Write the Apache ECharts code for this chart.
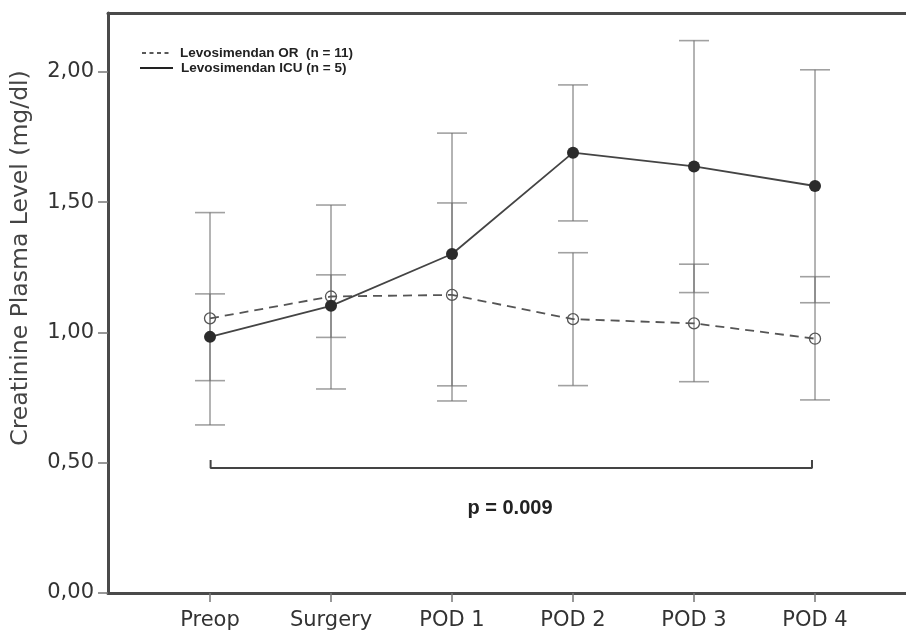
<!DOCTYPE html>
<html>
<head>
<meta charset="utf-8">
<script src="https://cdn.jsdelivr.net/npm/echarts@6/dist/echarts.min.js"></script>
<style>html,body{margin:0;padding:0;background:#fff;}#c{width:906px;height:632px;}</style>
</head>
<body>
<div id="c"></div>
<script>
const categories = ['Preop', 'Surgery', 'POD 1', 'POD 2', 'POD 3', 'POD 4'];
const yTicks = [0, 0.5, 1, 1.5, 2];
const orMean = [1.054, 1.138, 1.144, 1.051, 1.035, 0.976];
const orLow  = [0.645, 0.783, 0.795, 0.796, 0.811, 0.741];
const orHigh = [1.460, 1.489, 1.497, 1.306, 1.262, 1.214];
const icuMean = [0.983, 1.102, 1.301, 1.690, 1.637, 1.562];
const icuLow  = [0.815, 0.981, 0.737, 1.428, 1.153, 1.114];
const icuHigh = [1.148, 1.221, 1.765, 1.950, 2.120, 2.008];
const bracket = [[0.005, 0.51], [0.005, 0.48], [4.975, 0.48], [4.975, 0.51]];
const legendLabels = ['Levosimendan OR  (n = 11)', 'Levosimendan ICU (n = 5)'];
const pText = 'p = 0.009';
const yTitle = 'Creatinine Plasma Level (mg/dl)';

const chart = echarts.init(document.getElementById('c'), null, {renderer: 'canvas'});

function errData(low, high) {
  return categories.map((c, i) => [i, low[i], high[i]]);
}
function errRender(params, api) {
  const lo = api.coord([api.value(0), api.value(1)]);
  const hi = api.coord([api.value(0), api.value(2)]);
  const hw = 15;
  const st = {stroke: 'rgba(110,110,110,0.65)', lineWidth: 1.6};
  return {
    type: 'group',
    children: [
      {type: 'line', shape: {x1: lo[0], y1: lo[1], x2: hi[0], y2: hi[1]}, style: st},
      {type: 'line', shape: {x1: lo[0] - hw, y1: lo[1], x2: lo[0] + hw, y2: lo[1]}, style: st},
      {type: 'line', shape: {x1: hi[0] - hw, y1: hi[1], x2: hi[0] + hw, y2: hi[1]}, style: st}
    ]
  };
}

const option = {
  animation: false,
  backgroundColor: '#fff',
  grid: {left: 108, top: 13, right: 0, bottom: 39, containLabel: false},
  xAxis: [{
    type: 'value',
    min: -0.843,
    max: 5.752,
    axisLine: {show: true, lineStyle: {color: '#4a4a4a', width: 3}},
    axisTick: {show: true, length: 9, customValues: categories.map((c, i) => i), lineStyle: {color: '#777', width: 1.5}},
    axisLabel: {
      show: true, customValues: categories.map((c, i) => i), margin: 17,
      formatter: v => categories[Math.round(v)] || '',
      fontFamily: 'DejaVu Sans', fontSize: 21, color: '#333'
    },
    splitLine: {show: false}
  }, {
    type: 'value', position: 'top', min: -0.843, max: 5.752,
    axisLine: {show: true, lineStyle: {color: '#4a4a4a', width: 3}},
    axisTick: {show: false}, axisLabel: {show: false}, splitLine: {show: false}
  }],
  yAxis: {
    type: 'value',
    min: 0,
    max: 2.226,
    axisLine: {show: true, onZero: false, lineStyle: {color: '#4a4a4a', width: 3}},
    axisTick: {show: true, length: 10, customValues: yTicks, lineStyle: {color: '#777', width: 1.5}},
    axisLabel: {
      show: true, customValues: yTicks, margin: 14,
      formatter: v => v.toFixed(2).replace('.', ','),
      fontFamily: 'DejaVu Sans', fontSize: 21, color: '#333'
    },
    splitLine: {show: false}
  },
  series: [
    {type: 'custom', renderItem: errRender, data: errData(orLow, orHigh), z: 1, encode: {x: 0, y: [1, 2]}},
    {type: 'custom', renderItem: errRender, data: errData(icuLow, icuHigh), z: 1, encode: {x: 0, y: [1, 2]}},
    {
      type: 'line', name: 'Levosimendan OR', z: 3,
      data: orMean.map((v, i) => [i, v]),
      symbol: 'circle', symbolSize: 11,
      itemStyle: {color: 'rgba(0,0,0,0)', borderColor: '#555', borderWidth: 1.3},
      lineStyle: {color: '#555', width: 1.8, type: [9, 6]}
    },
    {
      type: 'line', name: 'Levosimendan ICU', z: 4,
      data: icuMean.map((v, i) => [i, v]),
      symbol: 'circle', symbolSize: 12,
      itemStyle: {color: '#2b2b2b', borderColor: '#2b2b2b', borderWidth: 0},
      lineStyle: {color: '#444', width: 1.8}
    },
    {
      type: 'line', name: 'bracket', z: 2, symbol: 'none',
      data: bracket,
      lineStyle: {color: '#444', width: 2}
    }
  ],
  graphic: [
    {type: 'line', shape: {x1: 142, y1: 53, x2: 171, y2: 53}, style: {stroke: '#222', lineWidth: 1.6, lineDash: [4, 3.5]}},
    {type: 'line', shape: {x1: 140, y1: 68, x2: 173, y2: 68}, style: {stroke: '#222', lineWidth: 1.8}},
    {type: 'text', x: 180, y: 53, style: {text: legendLabels[0], fontFamily: 'Liberation Sans', fontWeight: 'bold', fontSize: 13.5, fill: '#222', verticalAlign: 'middle'}},
    {type: 'text', x: 181, y: 68, style: {text: legendLabels[1], fontFamily: 'Liberation Sans', fontWeight: 'bold', fontSize: 13.5, fill: '#222', verticalAlign: 'middle'}},
    {type: 'text', x: 510, y: 508, style: {text: pText, fontFamily: 'Liberation Sans', fontWeight: 'bold', fontSize: 20, fill: '#222', align: 'center', verticalAlign: 'middle'}},
    {type: 'text', x: 21, y: 258, rotation: Math.PI / 2, style: {text: yTitle, fontFamily: 'DejaVu Sans', fontSize: 23.5, fill: '#444', align: 'center', verticalAlign: 'middle'}}
  ]
};
chart.setOption(option);
</script>
</body>
</html>
